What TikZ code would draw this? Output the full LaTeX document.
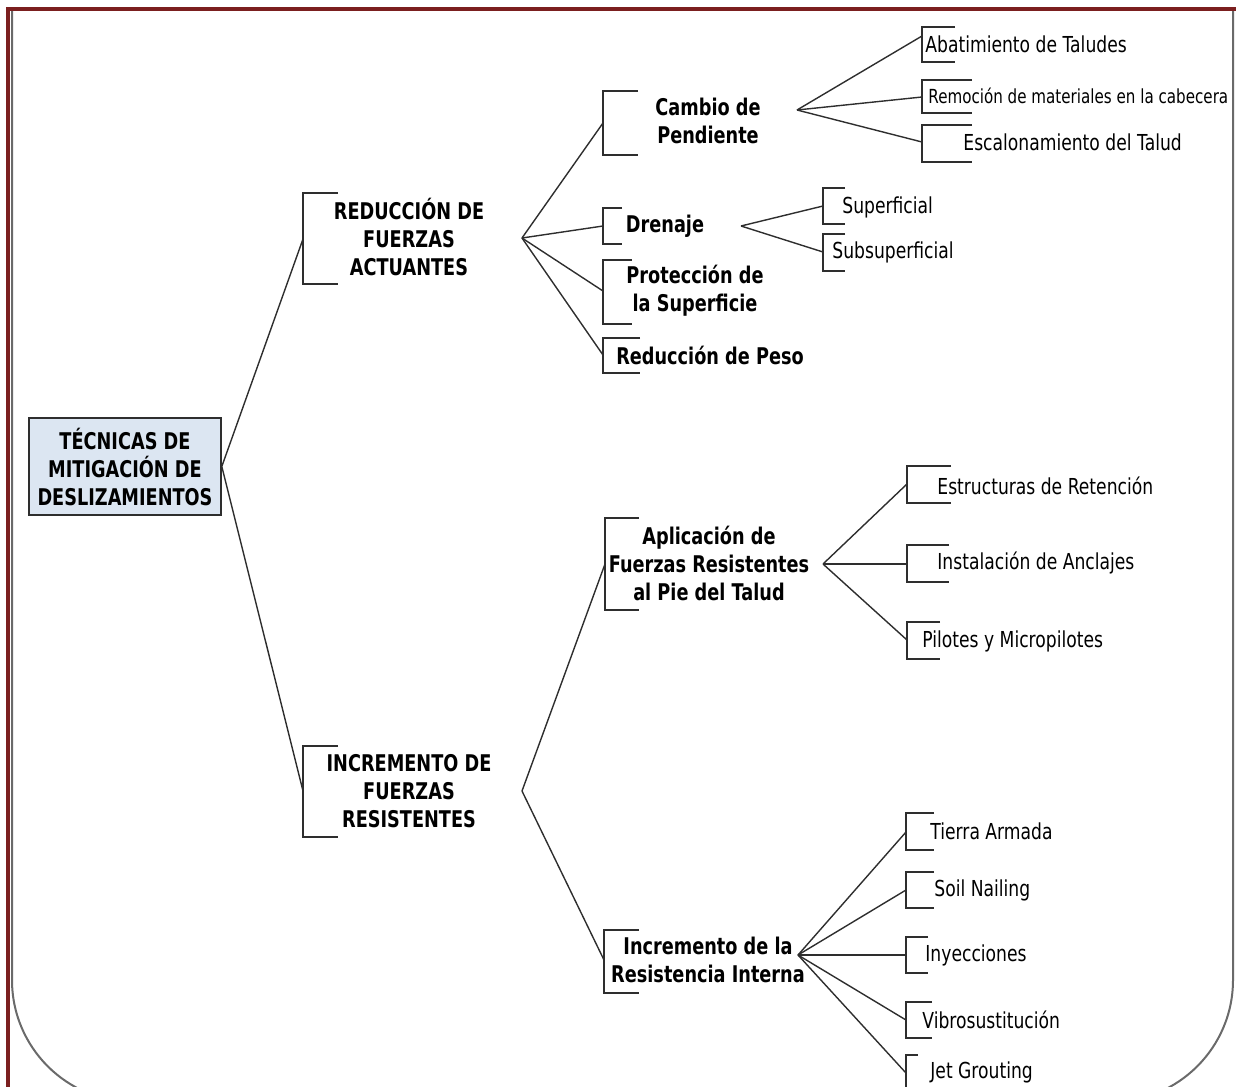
\documentclass[tikz,border=0pt]{standalone}
\usepackage{fontspec}
\setmainfont{DejaVu Sans}[FakeStretch=0.78, BoldFeatures={FakeStretch=0.77}]
\usepackage{tikz}
\definecolor{framered}{HTML}{7B1F1F}
\definecolor{framegray}{HTML}{6A6A6A}
\definecolor{rootfill}{HTML}{DCE6F2}
\definecolor{linegray}{HTML}{2E2E2E}

\begin{document}
\begin{tikzpicture}[x=0.5pt, y=-0.5pt,
    branch/.style={draw=linegray, line width=0.7pt},
    bracketline/.style={draw=linegray, line width=0.8pt},
    rootbox/.style={draw=linegray, line width=0.8pt, fill=rootfill, minimum width=96pt, minimum height=48.5pt, inner sep=0, align=center, font=\bfseries\fontsize{11.5}{14}\selectfont},
    bigtext/.style={inner sep=0, align=center, font=\bfseries\fontsize{11.5}{14}\selectfont},
    leaftext/.style={inner sep=0, anchor=west, font=\fontsize{11}{13}\selectfont}]
    \clip (0,0) rectangle (1237,1087);
    % outer frame
    \draw[framegray, line width=1pt, rounded corners=61pt] (12,10) -- (12,1102) -- (1233,1102) -- (1233,10);
    \draw[framered, line width=1.6pt] (8,1090) -- (8,9) -- (1236,9);

    % root
    \node[rootbox] (root) at (125,466.5) {TÉCNICAS DE\\MITIGACIÓN DE\\DESLIZAMIENTOS};

    % first level
    \draw[bracketline] (338,193) -- (303,193) -- (303,284) -- (338,284);
    \coordinate (reduccion) at (303,239);
    \node[bigtext] (reduccionT) at (409,237) {REDUCCIÓN DE\\FUERZAS\\ACTUANTES};
    \coordinate (reduccionX) at (522,238);

    \draw[bracketline] (338,746) -- (303,746) -- (303,837) -- (338,837);
    \coordinate (incremento) at (303,791);
    \node[bigtext] (incrementoT) at (409,791) {INCREMENTO DE\\FUERZAS\\RESISTENTES};
    \coordinate (incrementoX) at (522,791);

    \draw[branch] (root.east) -- (reduccion);
    \draw[branch] (root.east) -- (incremento);

    % second level, reduccion
    \draw[bracketline] (638,91) -- (603,91) -- (603,155) -- (638,155);
    \coordinate (cambio) at (603,123);
    \node[bigtext] (cambioT) at (708,121) {Cambio de\\Pendiente};
    \coordinate (cambioX) at (797,110);

    \draw[bracketline] (622,208) -- (603,208) -- (603,244) -- (622,244);
    \coordinate (drenaje) at (603,226);
    \node[bigtext] (drenajeT) at (665,226) {Drenaje};
    \coordinate (drenajeX) at (741,226);

    \draw[bracketline] (632,260) -- (603,260) -- (603,324) -- (632,324);
    \coordinate (proteccion) at (603,291);
    \node[bigtext] (proteccionT) at (695,291) {Protección de\\la Superficie};

    \draw[bracketline] (640,338) -- (603,338) -- (603,373) -- (640,373);
    \coordinate (peso) at (603,355);
    \node[bigtext] (pesoT) at (710,355) {Reducción de Peso};

    \draw[branch] (reduccionX) -- (cambio);
    \draw[branch] (reduccionX) -- (drenaje);
    \draw[branch] (reduccionX) -- (proteccion);
    \draw[branch] (reduccionX) -- (peso);

    % second level, incremento
    \draw[bracketline] (639,518) -- (605,518) -- (605,610) -- (639,610);
    \coordinate (aplicacion) at (605,564);
    \node[bigtext] (aplicacionT) at (709,563) {Aplicación de\\Fuerzas Resistentes\\al Pie del Talud};
    \coordinate (aplicacionX) at (823,564);

    \draw[bracketline] (639,930) -- (604,930) -- (604,993) -- (639,993);
    \coordinate (interna) at (604,960);
    \node[bigtext] (internaT) at (708,960) {Incremento de la\\Resistencia Interna};
    \coordinate (internaX) at (798,955);

    \draw[branch] (incrementoX) -- (aplicacion);
    \draw[branch] (incrementoX) -- (interna);

    % leaves, cambio de pendiente
    \draw[bracketline] (955,27) -- (922,27) -- (922,62) -- (955,62);
    \coordinate (abatimiento) at (922,36);
    \node[leaftext] (abatimientoT) at (925,44) {Abatimiento de Taludes};

    \draw[bracketline] (972,80) -- (922,80) -- (922,113) -- (972,113);
    \coordinate (remocion) at (922,97);
    \node[leaftext, font=\fontsize{9.7}{11}\selectfont] (remocionT) at (928,96) {Remoción de materiales en la cabecera};

    \draw[bracketline] (972,125) -- (922,125) -- (922,162) -- (972,162);
    \coordinate (escalonamiento) at (922,142);
    \node[leaftext] (escalonamientoT) at (963,142) {Escalonamiento del Talud};

    \draw[branch] (cambioX) -- (abatimiento);
    \draw[branch] (cambioX) -- (remocion);
    \draw[branch] (cambioX) -- (escalonamiento);

    % leaves, drenaje
    \draw[bracketline] (845,188) -- (823,188) -- (823,224) -- (845,224);
    \coordinate (superficial) at (823,206);
    \node[leaftext] (superficialT) at (842,207) {Superficial};

    \draw[bracketline] (845,234) -- (823,234) -- (823,271) -- (845,271);
    \coordinate (subsuperficial) at (823,252);
    \node[leaftext] (subsuperficialT) at (832,252) {Subsuperficial};

    \draw[branch] (drenajeX) -- (superficial);
    \draw[branch] (drenajeX) -- (subsuperficial);

    % leaves, aplicacion
    \draw[bracketline] (951,466) -- (907,466) -- (907,503) -- (951,503);
    \coordinate (estructuras) at (907,484);
    \node[leaftext] (estructurasT) at (937,486) {Estructuras de Retención};

    \draw[bracketline] (949,545) -- (907,545) -- (907,582) -- (949,582);
    \coordinate (anclajes) at (907,564);
    \node[leaftext] (anclajesT) at (937,563) {Instalación de Anclajes};

    \draw[bracketline] (940,622) -- (907,622) -- (907,659) -- (940,659);
    \coordinate (pilotes) at (907,640);
    \node[leaftext] (pilotesT) at (922,641) {Pilotes y Micropilotes};

    \draw[branch] (aplicacionX) -- (estructuras);
    \draw[branch] (aplicacionX) -- (anclajes);
    \draw[branch] (aplicacionX) -- (pilotes);

    % leaves, resistencia interna
    \draw[bracketline] (934,813) -- (906,813) -- (906,850) -- (934,850);
    \coordinate (tierra) at (906,832);
    \node[leaftext] (tierraT) at (930,831) {Tierra Armada};

    \draw[bracketline] (934,872) -- (906,872) -- (906,908) -- (934,908);
    \coordinate (soil) at (906,890);
    \node[leaftext] (soilT) at (934,890) {Soil Nailing};

    \draw[bracketline] (928,937) -- (906,937) -- (906,973) -- (928,973);
    \coordinate (inyecciones) at (906,955);
    \node[leaftext] (inyeccionesT) at (925,955) {Inyecciones};

    \draw[bracketline] (932,1002) -- (906,1002) -- (906,1038) -- (932,1038);
    \coordinate (vibro) at (906,1020);
    \node[leaftext] (vibroT) at (922,1020) {Vibrosustitución};

    \draw[bracketline] (918,1055) -- (906,1055) -- (906,1091) -- (918,1091);
    \coordinate (jet) at (906,1073);
    \node[leaftext] (jetT) at (930,1072) {Jet Grouting};

    \draw[branch] (internaX) -- (tierra);
    \draw[branch] (internaX) -- (soil);
    \draw[branch] (internaX) -- (inyecciones);
    \draw[branch] (internaX) -- (vibro);
    \draw[branch] (internaX) -- (jet);
\end{tikzpicture}
\end{document}
